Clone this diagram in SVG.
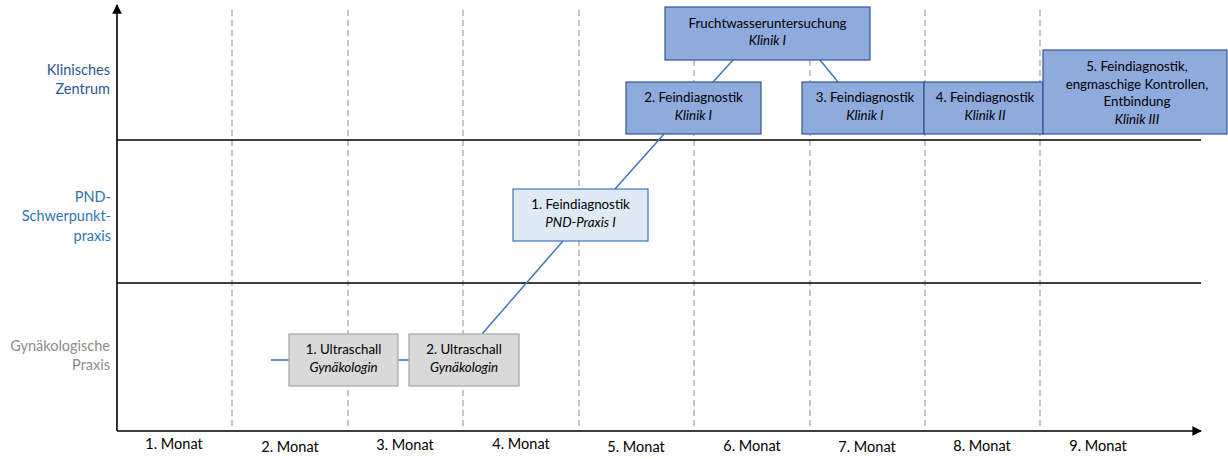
<svg xmlns="http://www.w3.org/2000/svg" width="1228" height="459" viewBox="0 0 1228 459">
  <style>
    text { font-family: Lato, "Open Sans", "Liberation Sans", sans-serif; }
    .axis { stroke: #000; stroke-width: 1.6; fill: none; }
    .lane { stroke: #000; stroke-width: 1.4; }
    .grid { stroke: #a6a6a6; stroke-width: 1.3; stroke-dasharray: 6 4; }
    .month { font-size: 14.5px; fill: #000; text-anchor: middle; }
    .row { font-size: 14.5px; text-anchor: end; }
    .nt { font-size: 13.3px; fill: #000; text-anchor: middle; }
    .it { font-style: italic; }
    .gray { fill: #d9d9d9; stroke: #a6a6a6; stroke-width: 1.2; }
    .light { fill: #deebf7; stroke: #4472c4; stroke-width: 1.2; }
    .dark { fill: #8faadc; stroke: #2f5597; stroke-width: 1.2; }
    .link { stroke: #4472c4; stroke-width: 1.5; fill: none; }
  </style>
  <defs>
    <marker id="arrow" viewBox="0 0 10 10" refX="9" refY="5" markerWidth="6" markerHeight="6" orient="auto">
      <path d="M0,0 L10,5 L0,10 z" fill="#000"/>
    </marker>
  </defs>

  <!-- month grid -->
  <g id="grid">
    <line class="grid" x1="232" y1="10" x2="232" y2="431"/>
    <line class="grid" x1="348" y1="10" x2="348" y2="431"/>
    <line class="grid" x1="463" y1="10" x2="463" y2="431"/>
    <line class="grid" x1="579" y1="10" x2="579" y2="431"/>
    <line class="grid" x1="694" y1="10" x2="694" y2="431"/>
    <line class="grid" x1="810" y1="10" x2="810" y2="431"/>
    <line class="grid" x1="925" y1="10" x2="925" y2="431"/>
    <line class="grid" x1="1040" y1="10" x2="1040" y2="431"/>
  </g>

  <!-- lanes and axes -->
  <g id="axes">
    <line class="lane" x1="117" y1="140" x2="1201" y2="140"/>
    <line class="lane" x1="117" y1="283" x2="1201" y2="283"/>
    <line class="axis" x1="117" y1="431" x2="117" y2="5" marker-end="url(#arrow)"/>
    <line class="axis" x1="117" y1="431" x2="1201" y2="431" marker-end="url(#arrow)"/>
  </g>

  <!-- lane labels -->
  <g id="lane-labels">
    <text class="row" x="110" y="75" fill="#2f5597">Klinisches</text>
    <text class="row" x="110" y="94" fill="#2f5597">Zentrum</text>
    <text class="row" x="111" y="202" fill="#2e75b6">PND-</text>
    <text class="row" x="111" y="221" fill="#2e75b6">Schwerpunkt-</text>
    <text class="row" x="111" y="241" fill="#2e75b6">praxis</text>
    <text class="row" x="110" y="351" fill="#8c8c8c">Gynäkologische</text>
    <text class="row" x="110" y="370" fill="#8c8c8c">Praxis</text>
  </g>

  <!-- month labels -->
  <g id="months">
    <text class="month" x="174" y="449">1. Monat</text>
    <text class="month" x="290" y="452">2. Monat</text>
    <text class="month" x="405" y="450">3. Monat</text>
    <text class="month" x="521" y="449">4. Monat</text>
    <text class="month" x="636" y="452">5. Monat</text>
    <text class="month" x="752" y="451">6. Monat</text>
    <text class="month" x="867" y="452">7. Monat</text>
    <text class="month" x="982" y="451">8. Monat</text>
    <text class="month" x="1098" y="451">9. Monat</text>
  </g>

  <!-- connectors -->
  <g id="connectors">
    <line class="link" x1="271" y1="360" x2="289" y2="360"/>
    <line class="link" x1="398" y1="360" x2="409" y2="360"/>
    <line class="link" x1="482" y1="334" x2="563" y2="241"/>
    <line class="link" x1="615" y1="189" x2="664" y2="134"/>
    <line class="link" x1="713" y1="82" x2="733" y2="60"/>
    <line class="link" x1="820" y1="60" x2="838" y2="82"/>
  </g>

  <!-- nodes -->
  <g id="us1">
    <rect class="gray" x="289" y="334" width="109" height="52"/>
    <text class="nt" x="343.5" y="354">1. Ultraschall</text>
    <text class="nt it" x="343.5" y="372">Gynäkologin</text>
  </g>
  <g id="us2">
    <rect class="gray" x="409" y="334" width="110" height="52"/>
    <text class="nt" x="464" y="354">2. Ultraschall</text>
    <text class="nt it" x="464" y="372">Gynäkologin</text>
  </g>
  <g id="fd1">
    <rect class="light" x="513" y="189" width="135" height="52"/>
    <text class="nt" x="580.5" y="209">1. Feindiagnostik</text>
    <text class="nt it" x="580.5" y="227">PND-Praxis I</text>
  </g>
  <g id="fd2">
    <rect class="dark" x="626" y="82" width="135" height="52"/>
    <text class="nt" x="693.5" y="102">2. Feindiagnostik</text>
    <text class="nt it" x="693.5" y="120">Klinik I</text>
  </g>
  <g id="amnio">
    <rect class="dark" x="665" y="7" width="205" height="53"/>
    <text class="nt" x="767.5" y="28">Fruchtwasseruntersuchung</text>
    <text class="nt it" x="767.5" y="45">Klinik I</text>
  </g>
  <g id="fd3">
    <rect class="dark" x="802" y="82" width="122" height="52"/>
    <text class="nt" x="865" y="102">3. Feindiagnostik</text>
    <text class="nt it" x="865" y="120">Klinik I</text>
  </g>
  <g id="fd4">
    <rect class="dark" x="924" y="82" width="119" height="52"/>
    <text class="nt" x="985" y="102">4. Feindiagnostik</text>
    <text class="nt it" x="985" y="120">Klinik II</text>
  </g>
  <g id="fd5">
    <rect class="dark" x="1043" y="50" width="184" height="84"/>
    <text class="nt" x="1137" y="71">5. Feindiagnostik,</text>
    <text class="nt" x="1137" y="89">engmaschige Kontrollen,</text>
    <text class="nt" x="1137" y="106">Entbindung</text>
    <text class="nt it" x="1137" y="124">Klinik III</text>
  </g>
</svg>
